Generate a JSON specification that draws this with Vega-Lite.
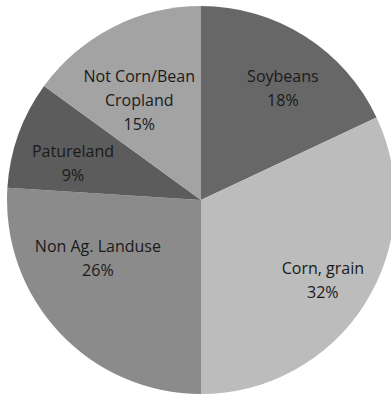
{
  "$schema": "https://vega.github.io/schema/vega-lite/v6.json",
  "autosize": "none",
  "width": 380,
  "height": 388,
  "padding": {"left": 11, "top": 6, "right": 0, "bottom": 0},
  "background": "white",
  "view": {"stroke": null},
  "data": {
    "values": [
      {"category": "Soybeans", "percent": 18, "order": 1, "label": "Soybeans\n18%"},
      {"category": "Corn, grain", "percent": 32, "order": 2, "label": "Corn, grain\n32%"},
      {"category": "Non Ag. Landuse", "percent": 26, "order": 3, "label": "Non Ag. Landuse\n26%"},
      {"category": "Patureland", "percent": 9, "order": 4, "label": "Patureland\n9%"},
      {"category": "Not Corn/Bean Cropland", "percent": 15, "order": 5, "label": "Not Corn/Bean\nCropland\n15%"}
    ]
  },
  "encoding": {
    "theta": {"field": "percent", "type": "quantitative", "stack": true},
    "order": {"field": "order", "type": "quantitative"}
  },
  "layer": [
    {
      "mark": {"type": "arc", "outerRadius": 194},
      "encoding": {
        "color": {
          "field": "category",
          "type": "nominal",
          "scale": {
            "domain": ["Soybeans", "Corn, grain", "Non Ag. Landuse", "Patureland", "Not Corn/Bean Cropland"],
            "range": ["#676767", "#bcbcbc", "#8b8b8b", "#5c5c5c", "#a3a3a3"]
          },
          "legend": null
        }
      }
    },
    {
      "mark": {"type": "text", "radius": 136, "dy": -2, "font": "Open Sans", "fontSize": 16, "lineBreak": "\n", "lineHeight": 24, "align": "center", "baseline": "middle", "color": "#1a1a1a"},
      "encoding": {
        "text": {"condition": {"test": "datum.category == 'Patureland' || datum.category == 'Not Corn/Bean Cropland'", "field": "label"}, "value": ""}
      }
    },
    {
      "mark": {"type": "text", "radius": 136, "dx": 7, "dy": -4, "font": "Open Sans", "fontSize": 16, "lineBreak": "\n", "lineHeight": 24, "align": "center", "baseline": "middle", "color": "#1a1a1a"},
      "encoding": {
        "text": {"condition": {"test": "datum.category == 'Corn, grain'", "field": "label"}, "value": ""}
      }
    },
    {
      "mark": {"type": "text", "radius": 136, "dx": 9, "dy": -8, "font": "Open Sans", "fontSize": 16, "lineBreak": "\n", "lineHeight": 24, "align": "center", "baseline": "middle", "color": "#1a1a1a"},
      "encoding": {
        "text": {"condition": {"test": "datum.category == 'Soybeans'", "field": "label"}, "value": ""}
      }
    },
    {
      "mark": {"type": "text", "radius": 136, "dx": -4, "dy": -46, "font": "Open Sans", "fontSize": 16, "lineBreak": "\n", "lineHeight": 24, "align": "center", "baseline": "middle", "color": "#1a1a1a"},
      "encoding": {
        "text": {"condition": {"test": "datum.category == 'Non Ag. Landuse'", "field": "label"}, "value": ""}
      }
    }
  ]
}
